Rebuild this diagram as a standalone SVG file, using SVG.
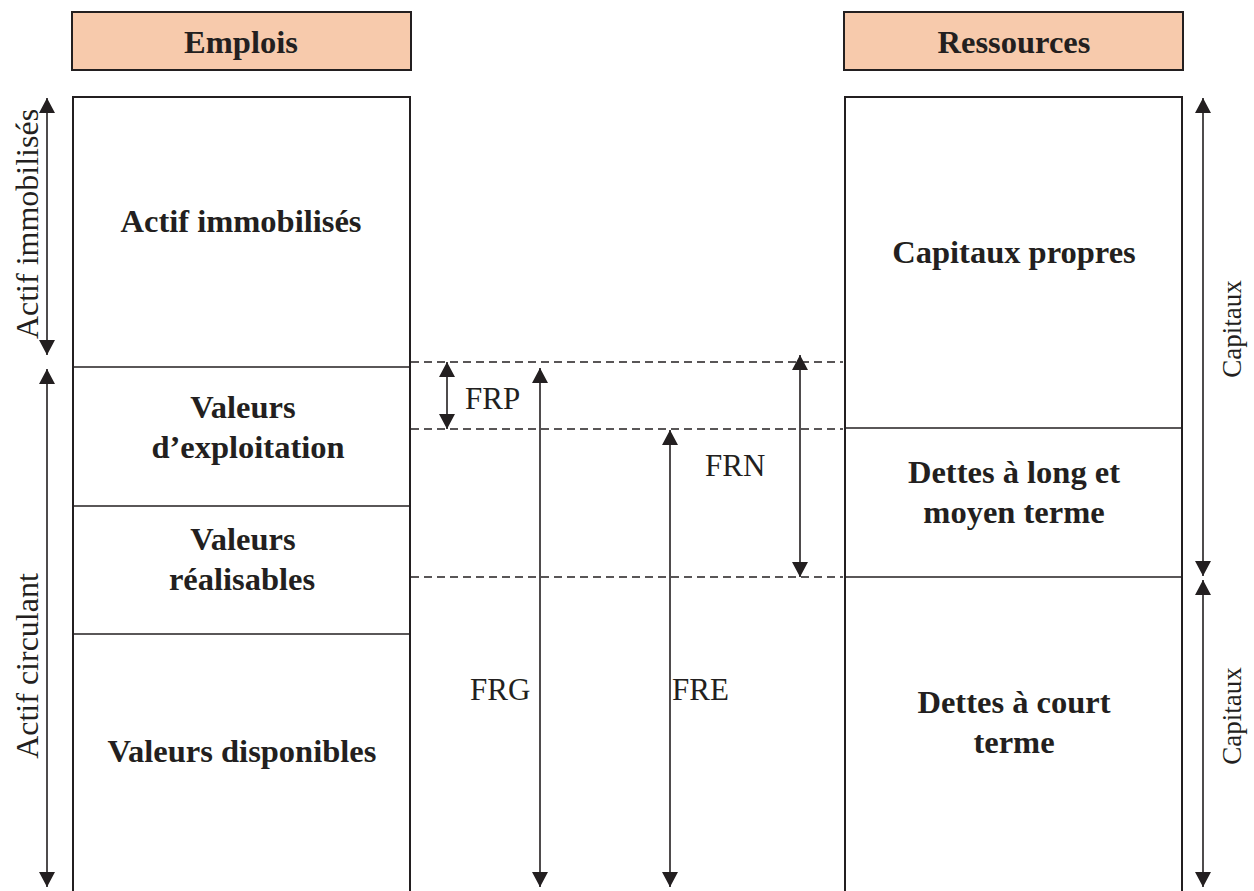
<svg xmlns="http://www.w3.org/2000/svg" width="1254" height="891" viewBox="0 0 1254 891">
<style>
.hdr{fill:#F7CAAC;stroke:#231F20;stroke-width:2}
.box{fill:none;stroke:#231F20;stroke-width:2}
.div{stroke:#231F20;stroke-width:1.6}
.b{font-family:"Liberation Serif",serif;font-weight:bold;font-size:32.5px;fill:#231F20;text-anchor:middle}
.r{font-family:"Liberation Serif",serif;font-size:31px;fill:#231F20}
.rm{text-anchor:middle}
.dash{stroke:#231F20;stroke-width:1.6;stroke-dasharray:8,5;fill:none}
.arr{stroke:#231F20;stroke-width:1.6;fill:none;marker-end:url(#ah);marker-start:url(#ah)}
</style>
<defs>
<marker id="ah" viewBox="0 0 15 16" refX="15" refY="8" markerWidth="15" markerHeight="16" markerUnits="userSpaceOnUse" orient="auto-start-reverse">
<path d="M0,0 L15,8 L0,16 z" fill="#231F20"/>
</marker>
</defs>
<rect width="1254" height="891" fill="#fff"/>
<g id="emplois">
<rect class="hdr" x="72" y="12" width="339" height="58"/>
<text class="b" x="241" y="53">Emplois</text>
</g>
<g id="ressources">
<rect class="hdr" x="844" y="12" width="339" height="58"/>
<text class="b" x="1014" y="53">Ressources</text>
</g>
<g id="actif-immobilises">
<path class="box" d="M73,900 V97 H410 V900"/>
<text class="b" x="241" y="232">Actif immobilisés</text>
</g>
<g id="valeurs-exploitation">
<line class="div" x1="73" y1="367" x2="410" y2="367"/>
<text class="b" x="243" y="418">Valeurs</text>
<text class="b" x="248" y="458">d’exploitation</text>
</g>
<g id="valeurs-realisables">
<line class="div" x1="73" y1="506" x2="410" y2="506"/>
<text class="b" x="243" y="550">Valeurs</text>
<text class="b" x="242" y="590">réalisables</text>
</g>
<g id="valeurs-disponibles">
<line class="div" x1="73" y1="634" x2="410" y2="634"/>
<text class="b" x="242" y="762">Valeurs disponibles</text>
</g>
<g id="capitaux-propres">
<path class="box" d="M845,900 V97 H1182 V900"/>
<text class="b" x="1014" y="263">Capitaux propres</text>
</g>
<g id="dettes-lmt">
<line class="div" x1="845" y1="428" x2="1182" y2="428"/>
<text class="b" x="1014" y="483">Dettes à long et</text>
<text class="b" x="1014" y="523">moyen terme</text>
</g>
<g id="dettes-ct">
<line class="div" x1="845" y1="577" x2="1182" y2="577"/>
<text class="b" x="1014" y="713">Dettes à court</text>
<text class="b" x="1014" y="753">terme</text>
</g>
<g id="connectors">
<line class="dash" x1="411" y1="362" x2="843" y2="362"/>
<line class="dash" x1="411" y1="429" x2="843" y2="429"/>
<line class="dash" x1="411" y1="577" x2="843" y2="577"/>
<line class="arr" x1="47" y1="98" x2="47" y2="355"/>
<line class="arr" x1="47" y1="369" x2="47" y2="887"/>
<line class="arr" x1="447" y1="362" x2="447" y2="429"/>
<line class="arr" x1="540" y1="368" x2="540" y2="887"/>
<line class="arr" x1="670" y1="430" x2="670" y2="887"/>
<line class="arr" x1="800" y1="355" x2="800" y2="577"/>
<line class="arr" x1="1203" y1="98" x2="1203" y2="576"/>
<line class="arr" x1="1203" y1="580" x2="1203" y2="887"/>
</g>
<g id="labels">
<text class="r" x="465" y="409">FRP</text>
<text class="r" x="705" y="476">FRN</text>
<text class="r" x="470" y="700">FRG</text>
<text class="r" x="672" y="700">FRE</text>
<text class="r rm" style="font-size:32px" transform="translate(38,224) rotate(-90)">Actif immobilisés</text>
<text class="r rm" style="font-size:32px" transform="translate(38,666) rotate(-90)">Actif circulant</text>
<text class="r rm" style="font-size:27px" transform="translate(1241,329) rotate(-90)">Capitaux</text>
<text class="r rm" style="font-size:27px" transform="translate(1241,716) rotate(-90)">Capitaux</text>
</g>
</svg>
